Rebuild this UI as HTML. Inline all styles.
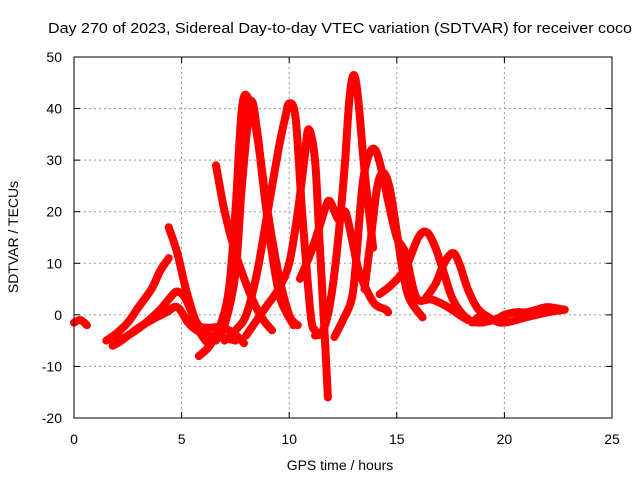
<!DOCTYPE html>
<html><head><meta charset="utf-8"><style>
body{margin:0;background:#fff;font-family:"Liberation Sans",sans-serif}
svg text{font-family:"Liberation Sans",sans-serif;font-size:14px;fill:#000}
</style></head><body>
<svg width="640" height="480">
<g id="grid"></g>
<g id="series"></g>
<rect x="74" y="57" width="538" height="361" fill="none" stroke="#000" stroke-width="1"/>
<g id="ticks"></g>
<text x="340" y="33" text-anchor="middle" textLength="584" lengthAdjust="spacingAndGlyphs" style="font-size:15px">Day 270 of 2023, Sidereal Day-to-day VTEC variation (SDTVAR) for receiver coco</text>
<text x="340" y="470" text-anchor="middle">GPS time / hours</text>
<text x="18" y="237" text-anchor="middle" transform="rotate(-90 18 237)">SDTVAR / TECUs</text>
</svg>
<script>
const xTicks=[0,5,10,15,20,25];
const yTicks=[-20,-10,0,10,20,30,40,50];
const trackNames=['t1','t2','t3','t4','t5','t6','t7','t8','t9','t10','t11','t12','t13','t14','t15','t16','t17'];
const trackHours=[
[0,0.3,0.6],
[1.5,2,2.5,3,3.6,4,4.4],
[1.8,2.2,3,3.6,4.3,4.8,5.3,5.7,6.3,7,7.5],
[2,2.5,3.2,4,4.5,4.8,5.2,5.8,6.3],
[4.4,4.8,5.2,5.7,6.2,6.8,7.4,7.9],
[6.6,7,7.5,8,8.4,8.8,9.2],
[5.8,6.3,6.8,7.2,7.5,7.8,8.1,8.5,9,9.5,10,10.4],
[6.6,7,7.5,7.8,8.2,8.5,8.8,9.2,9.6,10.2],
[7,7.5,8,8.5,9,9.5,9.8,10,10.3,10.6,11,11.2],
[8,8.5,9,9.5,10,10.4,10.7,10.9,11.2,11.4,11.6,11.8],
[11.2,11.5,11.8,12.1,12.4,12.6,12.8,13,13.2,13.5,13.9],
[10.5,11,11.4,11.7,11.9,12.3,12.6,12.9,13.2,13.6,14,14.5,14.6],
[12.1,12.5,12.9,13.1,13.4,13.7,14,14.3,14.6,15,15.4,15.9,16.6,17.3,18.3,19],
[13.5,13.8,14.1,14.4,14.7,15,15.3,15.6,16.2],
[14.2,14.8,15.4,16,16.4,16.8,17.2,17.6,18.2,18.8,19.5],
[16.3,16.8,17.2,17.6,17.9,18.3,18.8,19.5,20,21,22,22.8],
[18.5,19,19.5,20,20.5,21,21.5,22,22.8]];
const trackValues=[
[-1.5,-1,-2],
[-5,-3.5,-1.5,1.5,5,8.5,11],
[-6,-5,-2.5,-1,0.5,1.5,-1.5,-3,-4,-4.5,-5],
[-5,-4,-2,1,3.5,4.5,3,-3,-6],
[17,12,5,-1.5,-2.5,-2.4,-3.5,-5.5],
[29,20,12,6,2,-1,-3],
[-8,-6,-2,5,20,40,42,35,20,8,0,-2],
[-5,-2,8,25,41,36,25,12,3,-2],
[-5,-3,0,8,20,32,38,41,38,20,0,-3],
[-4,-1,2,5,10,20,30,36,30,15,0,-16],
[-4,-3.5,0,8,20,30,42,46.5,42,28,13],
[7,12,17,21,22,18.4,20,15,9,4.8,2,1,0.5],
[-4.3,-1,3,10,25,31,32,28,22,15,12,3.4,3,1.7,-1,-1.5],
[5,15,25,27.5,24,16,8,3,-0.5],
[4,6,9,15,16,13,8,3,-0.5,-1.5,-1],
[3,6,10,12,10,5,1,-1,-1.5,-0.5,0.5,1],
[-1.5,0,-1,0,0.5,0.5,1,1.5,1]];
const X=h=>74+h*538/25, Y=v=>57+(50-v)*361/70;
const NS='http://www.w3.org/2000/svg';
const grid=document.getElementById('grid'),ticks=document.getElementById('ticks'),series=document.getElementById('series');
function mk(tag,a,p){const e=document.createElementNS(NS,tag);for(const k in a)e.setAttribute(k,a[k]);p.appendChild(e);return e;}
xTicks.forEach(t=>{
  if(t>0&&t<25){const l=mk('line',{x1:X(t),x2:X(t),y1:57,y2:418,stroke:'#999','stroke-dasharray':'2,3'},grid);
  
  }
  const tx=mk('text',{x:X(t),y:444,'text-anchor':'middle'},ticks);tx.textContent=t;
  
  
  mk('line',{x1:X(t),x2:X(t),y1:418,y2:412,stroke:'#000'},ticks);mk('line',{x1:X(t),x2:X(t),y1:57,y2:63,stroke:'#000'},ticks);
});
yTicks.forEach(t=>{
  if(t>-20&&t<50){const l=mk('line',{x1:74,x2:612,y1:Y(t),y2:Y(t),stroke:'#999','stroke-dasharray':'2,3'},grid);
  
  }
  const tx=mk('text',{x:62,y:Y(t)+5,'text-anchor':'end'},ticks);tx.textContent=t;
  
  
  mk('line',{x1:74,x2:80,y1:Y(t),y2:Y(t),stroke:'#000'},ticks);mk('line',{x1:606,x2:612,y1:Y(t),y2:Y(t),stroke:'#000'},ticks);
});
function smoothPath(p){
  let d='M'+p[0][0].toFixed(1)+','+p[0][1].toFixed(1);
  for(let i=0;i<p.length-1;i++){
    const p0=p[i-1]||p[i],p1=p[i],p2=p[i+1],p3=p[i+2]||p2;
    const c1=[p1[0]+(p2[0]-p0[0])/6,p1[1]+(p2[1]-p0[1])/6],c2=[p2[0]-(p3[0]-p1[0])/6,p2[1]-(p3[1]-p1[1])/6];
    d+=' C'+c1.map(v=>v.toFixed(1)).join(',')+' '+c2.map(v=>v.toFixed(1)).join(',')+' '+p2[0].toFixed(1)+','+p2[1].toFixed(1);
  }
  return d;
}
trackHours.forEach((hs,i)=>{
  const pts=hs.map((h,j)=>[X(h),Y(trackValues[i][j])]);
  const pl=mk('path',{d:smoothPath(pts),fill:'none',stroke:'#f00','stroke-width':8,'stroke-linejoin':'round','stroke-linecap':'round'},series);
  
  
});
</script>
</body></html>
